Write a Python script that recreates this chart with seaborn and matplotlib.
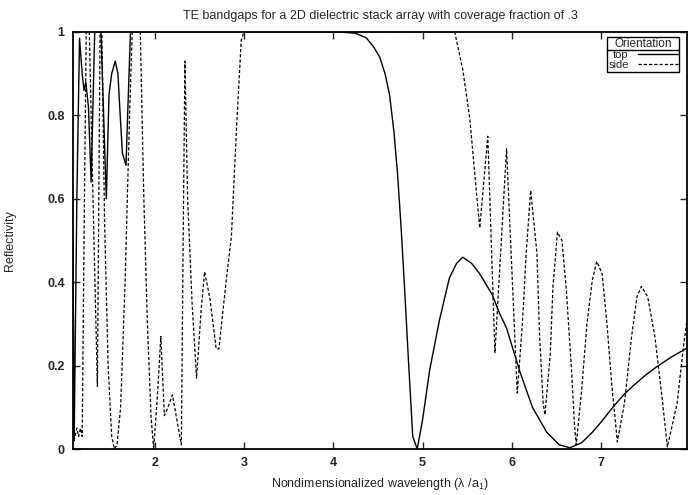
import matplotlib
matplotlib.use("Agg")
import matplotlib.pyplot as plt
import seaborn as sns
import pandas as pd
from matplotlib.lines import Line2D

# ---- data ----
top_x = [1.085, 1.10, 1.13, 1.16, 1.19, 1.21, 1.23, 1.26, 1.29, 1.33, 1.40, 1.46,
         1.49, 1.52, 1.56, 1.59, 1.61, 1.64, 1.68, 1.73, 4.07, 4.25, 4.37, 4.45,
         4.52, 4.58, 4.63, 4.68, 4.72, 4.76, 4.80, 4.84, 4.89, 4.94, 5.00, 5.08,
         5.19, 5.30, 5.38, 5.45, 5.55, 5.64, 5.78, 5.86, 5.94, 6.09, 6.23, 6.31,
         6.39, 6.53, 6.65, 6.78, 6.90, 7.00, 7.13, 7.25, 7.35, 7.50, 7.62, 7.78, 7.96]
top_y = [0.50, 0.02, 0.60, 0.985, 0.90, 0.86, 0.88, 0.82, 0.64, 1.00, 1.00, 0.60,
         0.85, 0.90, 0.93, 0.90, 0.82, 0.71, 0.68, 1.00, 1.00, 0.997, 0.986, 0.965,
         0.94, 0.90, 0.85, 0.76, 0.66, 0.53, 0.38, 0.22, 0.03, 0.00, 0.07, 0.19,
         0.31, 0.41, 0.445, 0.46, 0.445, 0.42, 0.37, 0.326, 0.29, 0.185, 0.10, 0.07,
         0.04, 0.01, 0.003, 0.015, 0.04, 0.065, 0.10, 0.13, 0.15, 0.178, 0.197, 0.22, 0.242]

side_x = [1.085, 1.10, 1.13, 1.15, 1.17, 1.19, 1.215, 1.235, 1.27, 1.30, 1.36, 1.39,
          1.41, 1.44, 1.48, 1.52, 1.55, 1.58, 1.62, 1.67, 1.72, 1.75, 1.84, 1.88,
          1.92, 1.96, 1.99, 2.03, 2.07, 2.11, 2.15, 2.20, 2.25, 2.30, 2.32, 2.34,
          2.37, 2.42, 2.47, 2.52, 2.56, 2.62, 2.69, 2.72, 2.80, 2.86, 2.92, 2.97,
          3.00, 5.36, 5.45, 5.53, 5.58, 5.64, 5.73, 5.81, 5.94, 6.06, 6.12, 6.16,
          6.21, 6.28, 6.31, 6.35, 6.37, 6.43, 6.46, 6.51, 6.56, 6.61, 6.67, 6.70,
          6.72, 6.78, 6.84, 6.90, 6.95, 7.01, 7.06, 7.12, 7.17, 7.18, 7.26, 7.34,
          7.40, 7.45, 7.52, 7.60, 7.68, 7.74, 7.85, 7.92, 7.96]
side_y = [0.60, 0.02, 0.05, 0.03, 0.05, 0.03, 0.60, 1.00, 1.00, 0.70, 0.15, 1.00,
          1.00, 0.55, 0.20, 0.03, 0.00, 0.01, 0.10, 0.40, 0.80, 1.00, 1.00, 0.60,
          0.30, 0.08, 0.00, 0.12, 0.27, 0.08, 0.10, 0.13, 0.07, 0.01, 0.50, 0.93,
          0.60, 0.35, 0.17, 0.33, 0.425, 0.36, 0.24, 0.24, 0.40, 0.51, 0.78, 0.98,
          1.00, 1.00, 0.91, 0.79, 0.67, 0.53, 0.75, 0.23, 0.72, 0.134, 0.31, 0.47,
          0.62, 0.47, 0.27, 0.11, 0.082, 0.23, 0.39, 0.52, 0.50, 0.38, 0.18, 0.06,
          0.01, 0.14, 0.30, 0.405, 0.45, 0.42, 0.31, 0.15, 0.04, 0.017, 0.11, 0.27,
          0.365, 0.39, 0.365, 0.27, 0.125, 0.005, 0.11, 0.245, 0.31]

series_names = ["top", "side"]
x_ticks = [2, 3, 4, 5, 6, 7]
y_ticks = [0, 0.2, 0.4, 0.6, 0.8, 1]
y_tick_labels = ["0", "0.2", "0.4", "0.6", "0.8", "1"]

title = "TE bandgaps for a 2D dielectric stack array with coverage fraction of .3"
xlabel = r"Nondimensionalized wavelength ($\lambda$ /a$_1$)"
ylabel = "Reflectivity"

# ---- plotting ----
sns.set_style("ticks")
plt.rcParams["font.family"] = ["Liberation Sans", "DejaVu Sans"]
plt.rcParams["mathtext.fontset"] = "custom"
plt.rcParams["mathtext.rm"] = "Liberation Sans"
plt.rcParams["mathtext.it"] = "Liberation Sans"

fig = plt.figure(figsize=(6.88, 4.95), dpi=100)
ax = fig.add_axes([73 / 688, 1 - 449 / 495, (687 - 73) / 688, (449 - 32) / 495])

df_top = pd.DataFrame({"x": top_x, "y": top_y})
df_side = pd.DataFrame({"x": side_x, "y": side_y})

dash = (0, (2.6, 1.6))
sns.lineplot(data=df_top, x="x", y="y", ax=ax, color="black", lw=1.0,
             sort=False, estimator=None)
sns.lineplot(data=df_side, x="x", y="y", ax=ax, color="black", lw=0.9,
             sort=False, estimator=None, linestyle=dash)

ax.set_xlim(1.087, 7.96)
ax.set_ylim(0, 1)
ax.set_xticks(x_ticks)
ax.set_xticklabels([str(t) for t in x_ticks], fontsize=9, fontweight="bold")
ax.set_yticks(y_ticks)
ax.set_yticklabels(y_tick_labels, fontsize=9, fontweight="bold")
ax.tick_params(direction="in", top=True, right=True, length=5, width=1, pad=6)
for s in ax.spines.values():
    s.set_linewidth(1.3)
    s.set_color("black")

ax.set_title(title, fontsize=9, pad=9)
ax.set_xlabel(xlabel, fontsize=9, labelpad=5)
ax.set_ylabel(ylabel, fontsize=9, labelpad=22)

handles = [Line2D([], [], color="black", lw=1.0),
           Line2D([], [], color="black", lw=0.9, linestyle=dash)]
leg = ax.legend(handles, series_names, title="Orientation", loc="upper right",
                bbox_to_anchor=(0.987, 0.988),
                fontsize=8, title_fontsize=8.5, frameon=True, fancybox=False,
                edgecolor="black", framealpha=1, borderaxespad=0.0,
                handlelength=3.6, handletextpad=0.8, labelspacing=0.0,
                borderpad=0.12, markerfirst=False)
leg.get_frame().set_linewidth(1.0)

fig.canvas.draw()
frame = leg.get_frame().get_window_extent()
tbb = leg.get_title().get_window_extent()
yline = tbb.y0
inv = fig.transFigure.inverted()
(x0f, yf), (x1f, _) = inv.transform([(frame.x0, yline), (frame.x1, yline)])
fig.add_artist(Line2D([x0f, x1f], [yf, yf], color="black", lw=1.0,
                      transform=fig.transFigure))

fig.savefig("out.png", dpi=100)
